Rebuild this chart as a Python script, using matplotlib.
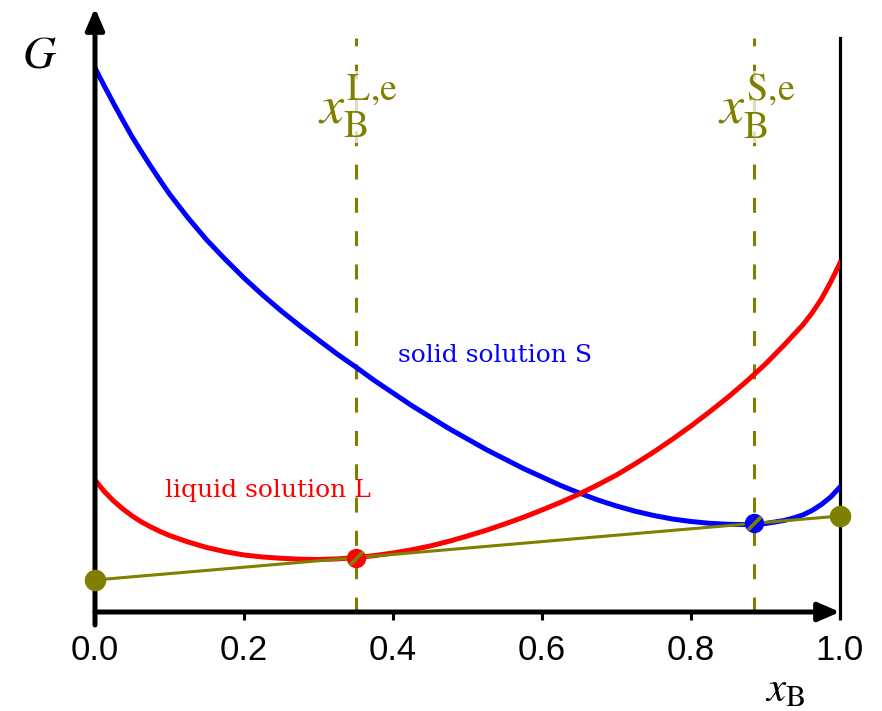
import numpy as np
import matplotlib
matplotlib.use('Agg')
import matplotlib.pyplot as plt
from matplotlib.path import Path

plt.rcParams['mathtext.fontset'] = 'stix'

# Gibbs energy curves G(x_B)
x_solid = [0.0, 0.0125, 0.025, 0.0375, 0.05, 0.0625, 0.075, 0.0875, 0.10, 0.125,
           0.15, 0.175, 0.20, 0.225, 0.25, 0.275, 0.30, 0.325, 0.35, 0.375,
           0.40, 0.425, 0.45, 0.475, 0.50, 0.525, 0.55, 0.575, 0.60, 0.625,
           0.65, 0.675, 0.70, 0.725, 0.75, 0.775, 0.80, 0.825, 0.85, 0.875,
           0.90, 0.925, 0.9375, 0.95, 0.9625, 0.975, 0.9875, 1.0]
g_solid = [5.44, 5.26, 5.085, 4.915, 4.75, 4.60, 4.455, 4.315, 4.18, 3.94,
           3.72, 3.525, 3.34, 3.17, 3.01, 2.862, 2.72, 2.58, 2.45, 2.315,
           2.19, 2.065, 1.95, 1.835, 1.73, 1.625, 1.53, 1.435, 1.35, 1.265,
           1.19, 1.12, 1.06, 1.008, 0.965, 0.93, 0.905, 0.887, 0.877, 0.874,
           0.885, 0.915, 0.94, 0.97, 1.015, 1.075, 1.15, 1.25]

x_liquid = [0.0, 0.0125, 0.025, 0.0375, 0.05, 0.0625, 0.075, 0.0875, 0.10, 0.125,
            0.15, 0.175, 0.20, 0.225, 0.25, 0.275, 0.30, 0.325, 0.35, 0.375,
            0.40, 0.425, 0.45, 0.475, 0.50, 0.525, 0.55, 0.575, 0.60, 0.625,
            0.65, 0.675, 0.70, 0.725, 0.75, 0.775, 0.80, 0.825, 0.85, 0.875,
            0.90, 0.925, 0.95, 0.9625, 0.975, 0.9875, 1.0]
g_liquid = [1.32, 1.205, 1.11, 1.03, 0.96, 0.90, 0.85, 0.805, 0.765, 0.70,
            0.645, 0.603, 0.57, 0.55, 0.537, 0.528, 0.525, 0.531, 0.544, 0.564,
            0.59, 0.622, 0.66, 0.707, 0.76, 0.817, 0.88, 0.947, 1.02, 1.097,
            1.18, 1.272, 1.37, 1.482, 1.60, 1.727, 1.86, 2.002, 2.15, 2.31,
            2.48, 2.67, 2.87, 2.99, 3.13, 3.30, 3.49]

# common tangent: intercepts at x_B = 0 and x_B = 1
x_tangent = [0.0, 1.0]
g_tangent = [0.32, 0.96]

# equilibrium compositions
x_le = 0.35
x_se = 0.885

xticks = [0.0, 0.2, 0.4, 0.6, 0.8, 1.0]

BLUE = '#0000ff'
RED = '#ff0000'
OLIVE = '#808000'

stripe = Path([[-0.5, -0.5], [0.5, 0.5]])


def tangent_at(x):
  return np.interp(x, x_tangent, g_tangent)


fig = plt.figure(figsize=(8.82, 7.11), dpi=100)
ax = fig.add_axes([95/882, (711-612)/711, 745/882, 600/711])
ax.set_xlim(0, 1)
ax.set_ylim(0, 6.0)
for s in ax.spines.values():
  s.set_visible(False)

ax.plot(x_solid, g_solid, color=BLUE, lw=3.6, zorder=3, solid_joinstyle='round')
ax.plot(x_liquid, g_liquid, color=RED, lw=3.6, zorder=3, solid_joinstyle='round')
ax.plot(x_tangent, g_tangent, color=OLIVE, lw=2.2, zorder=4)

# dashed verticals at the equilibrium compositions
for xv in (x_le, x_se):
  ax.plot([xv, xv], [0, 5.74], color=OLIVE, lw=2.2, ls=(0, (4.9, 6.0)), zorder=2)

# tangent points: coloured disc with an olive stripe
for xv, c in ((x_le, RED), (x_se, BLUE)):
  gv = tangent_at(xv)
  ax.plot([xv], [gv], 'o', color=c, ms=14, mew=0, zorder=6)
  ax.plot([xv], [gv], marker=stripe, color=OLIVE, ms=9.5, mew=2.6, zorder=7)
ax.plot(x_tangent, g_tangent, 'o', color=OLIVE, ms=15.5, mew=0, zorder=8, clip_on=False)

# axes drawn as arrows
head = '-|>,head_length=0.65,head_width=0.28'
ax.plot([1, 1], [-0.05, 5.74], color='k', lw=2.3, zorder=1, clip_on=False)
ax.annotate('', xy=(0, 6.04), xytext=(0, -0.13),
            arrowprops=dict(arrowstyle=head, lw=3.6, color='k', mutation_scale=20,
                            shrinkA=0, shrinkB=0),
            annotation_clip=False, zorder=5)
ax.annotate('', xy=(1.0, 0), xytext=(0, 0),
            arrowprops=dict(arrowstyle=head, lw=3.6, color='k', mutation_scale=20,
                            shrinkA=0, shrinkB=0),
            annotation_clip=False, zorder=5)

ax.set_yticks([])
ax.set_xticks(xticks)
ax.set_xticklabels(['%.1f' % t for t in xticks], fontfamily='Liberation Sans', fontsize=25)
ax.tick_params(axis='x', direction='out', length=6, width=2.2, pad=10)

ax.text(-0.074, 5.57, '$G$', fontsize=33, ha='center', va='center')
ax.text(0.926, -0.77, r'$x_\mathrm{B}$', fontsize=31, ha='center', va='center',
        clip_on=False)

box = dict(facecolor='white', alpha=0.75, edgecolor='none', pad=1)
ax.text(x_le + 0.003, 5.05, r'$x_\mathrm{B}^\mathrm{L{,}e}$', color=OLIVE, fontsize=39,
        ha='center', va='center', bbox=box, zorder=3)
ax.text(x_se + 0.003, 5.05, r'$x_\mathrm{B}^\mathrm{S{,}e}$', color=OLIVE, fontsize=39,
        ha='center', va='center', bbox=box, zorder=3)

ax.text(0.537, 2.57, 'solid solution S', color=BLUE, fontsize=18,
        fontfamily='DejaVu Serif', ha='center', va='center')
ax.text(0.232, 1.21, 'liquid solution L', color=RED, fontsize=18,
        fontfamily='DejaVu Serif', ha='center', va='center')

fig.savefig('out.png', dpi=100)
